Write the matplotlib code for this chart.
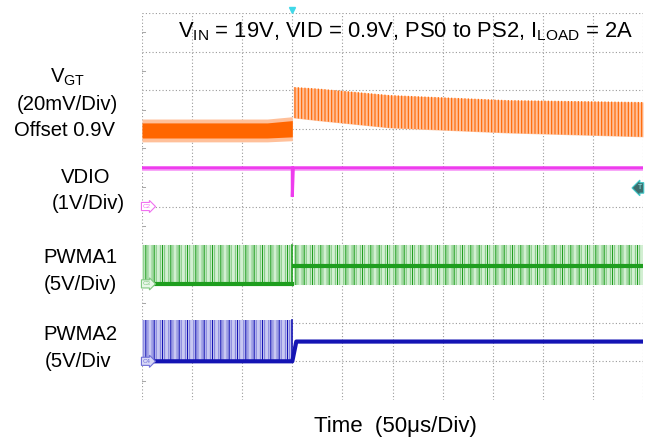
import numpy as np
import matplotlib.pyplot as plt

plt.rcParams['font.family'] = 'Liberation Sans'
plt.rcParams['mathtext.default'] = 'regular'
plt.rcParams['hatch.linewidth'] = 0.8

W, H = 657, 445

# scope screen is 10 x 10 div, time base 50us/div
t_step = 3.0                      # PS0 -> PS2 transition (div)

# V_GT, 20mV/div, offset 0.9V: noise envelope in div
vgt_pre_t = [0.0, 2.5, 3.0]
vgt_pre_lo = [6.77, 6.77, 6.80]
vgt_pre_hi = [7.16, 7.16, 7.22]
vgt_post_t = [3.02, 3.5, 4.95, 7.3, 10.0]
vgt_post_lo = [7.29, 7.22, 7.03, 6.90, 6.80]
vgt_post_hi = [8.09, 8.05, 7.88, 7.75, 7.70]

# VDIO, 1V/div (dip at the transition)
vdio_t = [0.0, 3.0, 3.0, 3.02, 10.0]
vdio_v = [6.0, 6.0, 5.25, 6.0, 6.0]

# PWMA1, 5V/div: switching band before/after
pwm1_lo, pwm1_hi = 3.0, 4.0
pwm1_mid = 3.47                   # dense level after the transition

# PWMA2, 5V/div: switching before, parked at mid level after
pwm2_lo, pwm2_hi = 1.0, 2.08
pwm2_t = [0.0, 3.0, 3.08, 10.0]
pwm2_v = [1.0, 1.0, 1.51, 1.51]

# channel ground markers and trigger level
ch_names = ['C2', 'C3', 'C4']
ch_refs = [5.0, 3.0, 1.0]
trig_level = 5.48

title = 'V$_{IN}$ = 19V, VID = 0.9V, PS0 to PS2, I$_{LOAD}$ = 2A'
side_labels = [('V$_{GT}$', 68, 83), ('(20mV/Div)', 67, 110), ('Offset 0.9V', 65, 136),
               ('VDIO', 86, 183), ('(1V/Div)', 88, 209),
               ('PWMA1', 80, 263), ('(5V/Div)', 80, 290),
               ('PWMA2', 80, 340), ('(5V/Div', 78, 367)]

ORANGE, ORANGE_L = '#FF6600', '#FFC09A'
MAGENTA = '#EE3CEE'
GREEN, GREEN_M, GREEN_L = '#1E9E1E', '#86CC86', '#D2EFD2'
BLUE, BLUE_M, BLUE_L = '#1414B4', '#8484DE', '#C8C8F2'

fig = plt.figure(figsize=(W / 100, H / 100), dpi=100)
ax = fig.add_axes([142 / W, (H - 400) / H, (643 - 142) / W, (400 - 13) / H])
ax.set_xlim(0, 10)
ax.set_ylim(0, 10)
ax.axis('off')

# graticule
grid_kw = dict(color='#9A9A9A', lw=0.8, ls=(0, (1, 2)), zorder=1)
for gx in range(11):
    ax.plot([gx, gx], [0, 10], **grid_kw)
for gy in range(1, 11):
    ax.plot([0, 10], [gy, gy], **grid_kw)
for gy in np.arange(0.5, 10, 1.0):
    ax.plot([0, 0.06], [gy, gy], color='#A8A8A8', lw=0.75, zorder=1)


def band(t, lo, hi, light, mid, dark, mid_hatch, dark_hatch):
    ax.fill_between(t, lo, hi, color=light, lw=0, zorder=2)
    ax.fill_between(t, lo, hi, facecolor='none', edgecolor=mid,
                    hatch=mid_hatch, lw=0, zorder=3)
    if dark_hatch:
        ax.fill_between(t, lo, hi, facecolor='none', edgecolor=dark,
                        hatch=dark_hatch, lw=0, zorder=3)


# V_GT
ax.fill_between(vgt_pre_t, np.array(vgt_pre_lo) - 0.1, np.array(vgt_pre_hi) + 0.1,
                color=ORANGE_L, lw=0, zorder=2)
ax.fill_between(vgt_pre_t, vgt_pre_lo, vgt_pre_hi, color=ORANGE, lw=0, zorder=3)
band(vgt_post_t, vgt_post_lo, vgt_post_hi, ORANGE_L, ORANGE, None, '|||||', None)

# VDIO
ax.fill_between([0, 10], [5.93, 5.93], [6.0, 6.0], color='#F8A8F8', lw=0, zorder=2)
ax.plot(vdio_t, vdio_v, color=MAGENTA, lw=2.2, solid_joinstyle='miter', zorder=3)

# PWMA1
band([0, t_step], pwm1_lo, pwm1_hi, GREEN_L, GREEN_M, GREEN, '||||', '||')
ax.plot([0, t_step], [pwm1_lo, pwm1_lo], color=GREEN, lw=3, zorder=4)
ax.plot([t_step, t_step], [pwm1_lo, pwm1_hi], color=GREEN, lw=1.2, zorder=4)
band([t_step + 0.03, 10], pwm1_lo - 0.03, pwm1_hi, GREEN_L, GREEN_M, GREEN, '||||', '||')
ax.plot([t_step + 0.03, 10], [pwm1_mid, pwm1_mid], color=GREEN, lw=3, zorder=4)

# PWMA2
band([0, t_step], pwm2_lo, pwm2_hi, BLUE_L, BLUE_M, BLUE, '||||', '||')
ax.plot([t_step, t_step], [pwm2_lo, pwm2_hi], color=BLUE, lw=1.2, zorder=4)
ax.plot(pwm2_t, pwm2_v, color=BLUE, lw=3, zorder=4)

# channel markers, trigger markers
ch_cols = [('#F070F0', 'white'), ('#80C880', '#E8F6E8'), ('#7070D8', '#D8D8F6')]
for name, ref, (ec, fc) in zip(ch_names, ch_refs, ch_cols):
    ax.text(0.02, ref, name, fontsize=4.5, color=ec, ha='left', va='center', zorder=6,
            bbox=dict(boxstyle='rarrow,pad=0.25', fc=fc, ec=ec, lw=0.8))
ax.text(9.98, trig_level, 'T', fontsize=5, color='#9EE', ha='right', va='center',
        zorder=6, clip_on=False,
        bbox=dict(boxstyle='larrow,pad=0.25', fc='#3C6E6E', ec='#40C8C8', lw=0.8))
ax.plot([t_step], [10.08], marker='v', ms=5, color='#40D8E8', clip_on=False, zorder=6)

# text
fig.text(633 / W, 1 - 37 / H, title, ha='right', va='baseline', fontsize=15.8)
for s, cx, by in side_labels:
    fig.text(cx / W, 1 - by / H, s, ha='center', va='baseline', fontsize=14.6)
fig.text(395 / W, 1 - 432 / H, 'Time  (50\u03bcs/Div)', ha='center', va='baseline',
         fontsize=16)

plt.savefig('out.png', dpi=100)
